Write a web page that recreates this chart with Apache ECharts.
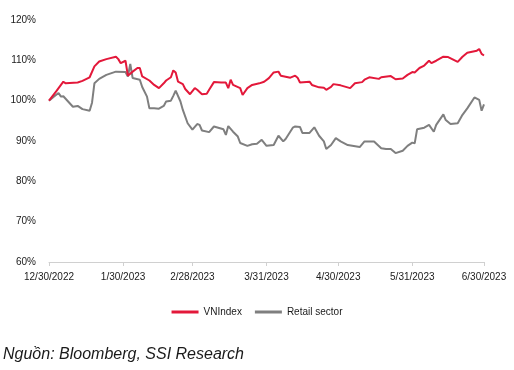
<!DOCTYPE html>
<html>
<head>
<meta charset="utf-8">
<script src="https://cdn.jsdelivr.net/npm/echarts@6/dist/echarts.min.js"></script>
<style>
html,body{margin:0;padding:0;background:#fff;}
#c{width:514px;height:370px;}
</style>
</head>
<body>
<div id="c"></div>
<script>
var FONT = "'Liberation Sans Narrow', 'Arial Narrow', 'Liberation Sans', Arial, sans-serif";

var seriesNames = ['VNIndex', 'Retail sector'];
var xTickDates = ['2022-12-30', '2023-01-30', '2023-02-28', '2023-03-31', '2023-04-30', '2023-05-31', '2023-06-30'];
var yTicks = [60, 70, 80, 90, 100, 110, 120];

var vnDates = ['2022-12-30','2023-01-02','2023-01-05','2023-01-06','2023-01-11','2023-01-13','2023-01-16','2023-01-18','2023-01-20','2023-01-23','2023-01-27','2023-01-28','2023-01-29','2023-01-31','2023-02-01','2023-02-03','2023-02-05','2023-02-06','2023-02-07','2023-02-10','2023-02-12','2023-02-14','2023-02-16','2023-02-17','2023-02-19','2023-02-20','2023-02-21','2023-02-22','2023-02-24','2023-02-25','2023-02-27','2023-03-01','2023-03-02','2023-03-04','2023-03-06','2023-03-07','2023-03-09','2023-03-12','2023-03-14','2023-03-15','2023-03-16','2023-03-17','2023-03-20','2023-03-21','2023-03-23','2023-03-25','2023-03-28','2023-03-30','2023-04-01','2023-04-03','2023-04-05','2023-04-06','2023-04-10','2023-04-12','2023-04-13','2023-04-14','2023-04-18','2023-04-19','2023-04-22','2023-04-24','2023-04-25','2023-04-27','2023-04-28','2023-05-01','2023-05-05','2023-05-07','2023-05-10','2023-05-11','2023-05-13','2023-05-17','2023-05-18','2023-05-22','2023-05-24','2023-05-27','2023-05-29','2023-05-31','2023-06-01','2023-06-03','2023-06-05','2023-06-07','2023-06-08','2023-06-10','2023-06-13','2023-06-15','2023-06-19','2023-06-21','2023-06-23','2023-06-27','2023-06-28','2023-06-29','2023-06-30'];
var vnValues = [100.0,102.3,104.7,104.3,104.5,104.9,105.8,108.5,109.7,110.3,110.9,110.3,109.3,109.9,106.2,107.2,108.1,108.1,106.0,105.0,103.9,103.1,104.3,105.0,105.8,107.5,107.0,104.7,104.1,102.9,101.6,103.1,102.7,101.6,101.7,102.7,104.6,104.5,104.5,103.1,105.2,103.9,103.1,101.4,103.1,103.9,104.3,104.7,105.6,107.0,107.2,106.2,105.7,106.2,105.7,104.5,104.7,103.9,103.3,103.2,102.7,103.4,104.1,103.8,103.1,104.3,104.6,105.2,105.8,105.4,105.8,106.1,105.3,105.5,106.4,107.1,107.0,108.1,108.7,109.9,109.3,109.9,110.9,110.8,109.6,110.9,111.9,112.4,112.8,111.6,111.2];

var retailDates = ['2022-12-30','2023-01-01','2023-01-03','2023-01-04','2023-01-05','2023-01-07','2023-01-09','2023-01-11','2023-01-13','2023-01-16','2023-01-17','2023-01-18','2023-01-20','2023-01-23','2023-01-27','2023-01-31','2023-02-01','2023-02-02','2023-02-03','2023-02-06','2023-02-07','2023-02-09','2023-02-10','2023-02-12','2023-02-14','2023-02-16','2023-02-17','2023-02-19','2023-02-20','2023-02-21','2023-02-23','2023-02-24','2023-02-26','2023-02-28','2023-03-02','2023-03-03','2023-03-04','2023-03-07','2023-03-09','2023-03-13','2023-03-14','2023-03-15','2023-03-17','2023-03-19','2023-03-20','2023-03-23','2023-03-25','2023-03-27','2023-03-29','2023-03-31','2023-04-03','2023-04-05','2023-04-07','2023-04-08','2023-04-11','2023-04-12','2023-04-14','2023-04-15','2023-04-18','2023-04-20','2023-04-22','2023-04-24','2023-04-25','2023-04-27','2023-04-29','2023-05-01','2023-05-04','2023-05-09','2023-05-11','2023-05-15','2023-05-18','2023-05-20','2023-05-22','2023-05-24','2023-05-27','2023-05-29','2023-05-31','2023-06-01','2023-06-02','2023-06-05','2023-06-07','2023-06-09','2023-06-10','2023-06-13','2023-06-14','2023-06-16','2023-06-19','2023-06-21','2023-06-23','2023-06-26','2023-06-28','2023-06-29','2023-06-30'];
var retailValues = [100.0,101.0,101.9,101.0,101.1,99.8,98.5,98.7,97.9,97.5,99.5,104.3,105.4,106.4,107.2,107.1,106.0,109.1,105.6,105.2,103.4,101.0,98.1,98.1,98.0,98.7,99.8,100.0,101.2,102.5,99.8,97.7,94.4,92.8,94.2,94.0,92.6,92.2,93.6,92.9,91.5,93.7,92.3,91.1,89.5,88.8,89.2,89.3,90.3,88.8,89.0,91.3,89.9,90.5,93.3,93.6,93.5,92.0,92.0,93.4,91.3,89.9,88.0,89.0,90.7,89.9,89.0,88.5,89.9,89.9,88.2,88.0,88.0,87.0,87.6,88.8,89.6,89.4,92.9,93.3,94.0,92.3,94.0,96.6,95.2,94.2,94.4,96.5,98.1,100.8,100.2,97.5,99.1];

var sourceText = 'Nguồn: Bloomberg, SSI Research';

function toTs(s){ var p = s.split('-'); return Date.UTC(+p[0], +p[1]-1, +p[2]); }
function pairs(ds, vs){ return ds.map(function(d,i){ return [toTs(d), vs[i]]; }); }
var tickTs = xTickDates.map(toTs);

var chart = echarts.init(document.getElementById('c'), null, {renderer:'canvas'});
chart.setOption({
  animation: false,
  backgroundColor: '#fff',
  grid: { left: 49, right: 30, top: 20, bottom: 108, containLabel: false },
  legend: {
    data: seriesNames,
    left: 'center',
    top: 302,
    icon: 'rect',
    itemWidth: 27,
    itemHeight: 3,
    itemGap: 13,
    textStyle: { fontFamily: FONT, fontSize: 10, color: '#1a1a1a' }
  },
  xAxis: {
    type: 'value',
    min: tickTs[0],
    max: tickTs[tickTs.length-1],
    axisLine: { show: true, lineStyle: { color: '#d0d0d0', width: 1 } },
    axisTick: { show: true, length: 4, lineStyle: { color: '#d0d0d0' }, customValues: tickTs },
    splitLine: { show: false },
    axisLabel: {
      customValues: tickTs,
      fontFamily: FONT, fontSize: 10, color: '#1a1a1a', margin: 10,
      hideOverlap: false,
      formatter: function(v){ var d = new Date(v); return (d.getUTCMonth()+1) + '/' + d.getUTCDate() + '/' + d.getUTCFullYear(); }
    }
  },
  yAxis: {
    type: 'value',
    min: yTicks[0], max: yTicks[yTicks.length-1], interval: 10,
    axisLine: { show: false }, axisTick: { show: false }, splitLine: { show: false },
    axisLabel: { fontFamily: FONT, fontSize: 10, color: '#1a1a1a', margin: 13, formatter: '{value}%' }
  },
  series: [
    { name: seriesNames[0], type: 'line', data: pairs(vnDates, vnValues), showSymbol: false, symbol: 'none',
      lineStyle: { color: '#e3183a', width: 2 }, itemStyle: { color: '#e3183a' }, z: 3 },
    { name: seriesNames[1], type: 'line', data: pairs(retailDates, retailValues), showSymbol: false, symbol: 'none',
      lineStyle: { color: '#7f7f7f', width: 2 }, itemStyle: { color: '#7f7f7f' }, z: 2 }
  ],
  graphic: [
    { type: 'text', left: 3, top: 347, style: { text: sourceText, fontFamily: FONT, fontSize: 16, fontStyle: 'italic', fill: '#1a1a1a' } }
  ]
});
</script>
</body>
</html>
